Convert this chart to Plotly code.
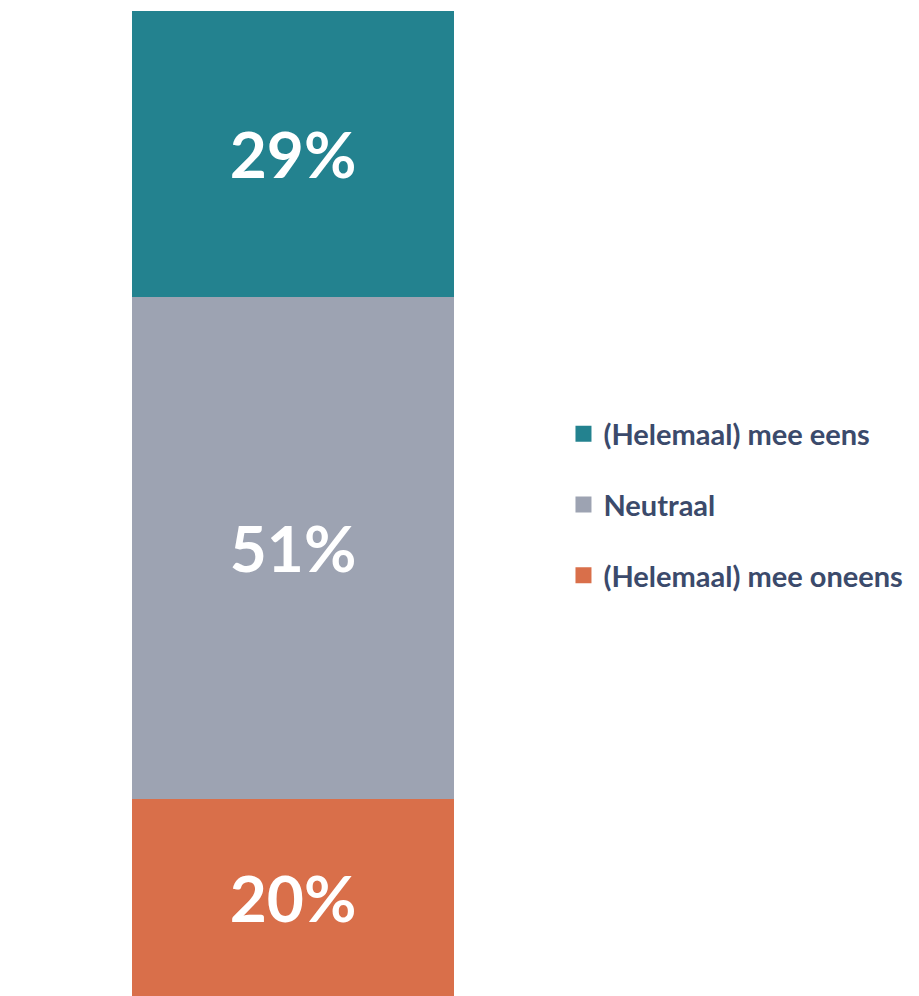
import plotly.graph_objects as go

categories = ["Totaal"]
series_names = ["(Helemaal) mee oneens", "Neutraal", "(Helemaal) mee eens"]
series_values = [[20], [51], [29]]
colors = ["#D96F4A", "#9DA3B2", "#23828F"]

fig = go.Figure()
for name, vals, col in zip(series_names, series_values, colors):
    fig.add_trace(go.Bar(
        x=categories, y=vals, name=name, marker=dict(color=col, line=dict(width=0)),
        texttemplate="%{y}%", textposition="inside", insidetextanchor="middle",
        textfont=dict(family="Lato", size=64, color="white", weight="bold"),
        showlegend=False, width=1,
    ))

# legend entries (top to bottom)
for i, (name, col) in enumerate(reversed(list(zip(series_names, colors)))):
    fig.add_trace(go.Scatter(
        x=[None], y=[None], mode="markers", name=name,
        marker=dict(symbol="square", size=16, color=col),
        legendgroup=f"g{i}", showlegend=True,
    ))

fig.update_layout(
    width=919, height=996,
    margin=dict(l=124, r=473, t=3, b=8),
    barmode="stack",
    plot_bgcolor="white", paper_bgcolor="white",
    xaxis=dict(visible=False, range=[-0.5, 0.5]),
    yaxis=dict(visible=False, range=[0, 100]),
    legend=dict(
        x=1.34, xanchor="left", y=0.4985, yanchor="middle",
        traceorder="grouped", tracegroupgap=30,
        font=dict(family="Lato", size=29, color="#3B4A6B", weight="bold"),
        itemsizing="trace",
    ),
    showlegend=True,
)

fig.write_html("out.html")
